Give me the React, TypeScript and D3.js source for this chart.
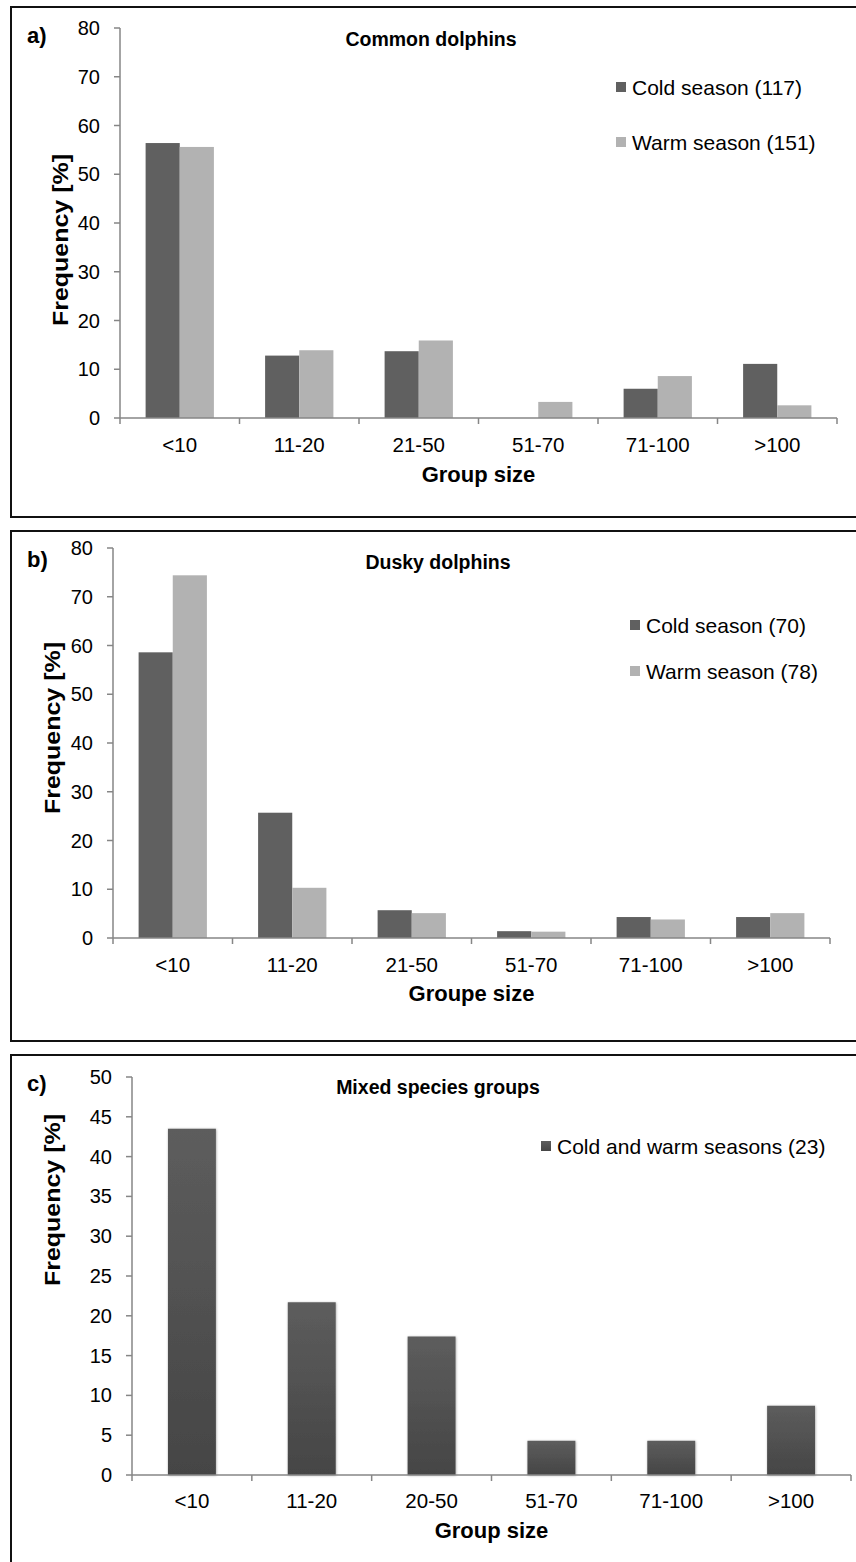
import React from "react";
import * as d3 from "d3";

const categoriesAB = ["<10", "11-20", "21-50", "51-70", "71-100", ">100"];
const categoriesC = ["<10", "11-20", "20-50", "51-70", "71-100", ">100"];

const commonCold = [56.4, 12.8, 13.7, 0, 6.0, 11.1];
const commonWarm = [55.6, 13.9, 15.9, 3.3, 8.6, 2.6];
const duskyCold = [58.6, 25.7, 5.7, 1.4, 4.3, 4.3];
const duskyWarm = [74.4, 10.3, 5.1, 1.3, 3.8, 5.1];
const mixedAll = [43.5, 21.7, 17.4, 4.3, 4.3, 8.7];

const ticksAB = [0, 10, 20, 30, 40, 50, 60, 70, 80];
const ticksC = [0, 5, 10, 15, 20, 25, 30, 35, 40, 45, 50];

const FONT = "'Liberation Sans', Arial, Helvetica, sans-serif";
const AXIS = "#868686";

type Series = { name: string; values: number[]; fill: string };

type PanelProps = {
  box: [number, number, number, number];
  tag: string;
  tagPos: [number, number];
  title: string;
  titlePos: [number, number];
  categories: string[];
  series: Series[];
  yTicks: number[];
  yMax: number;
  xRange: [number, number];
  yRange: [number, number];
  xLabelY: number;
  xTitle: string;
  xTitleY: number;
  yTitlePos: [number, number];
  legendX: number;
  legendY: number[];
};

function Panel(p: PanelProps) {
  const x = d3.scaleBand<string>().domain(p.categories).range(p.xRange).paddingInner(0).paddingOuter(0);
  const y = d3.scaleLinear().domain([0, p.yMax]).range(p.yRange);
  const W = x.bandwidth();
  const n = p.series.length;
  const bw = W / (n + 1.5);
  const gap = (W - bw * n) / 2;
  const [x0, x1] = p.xRange;
  const base = y(0);
  const boundaries = p.categories.map((c) => x(c) as number).concat([x1]);
  return (
    <g>
      <rect x={p.box[0]} y={p.box[1]} width={p.box[2]} height={p.box[3]} fill="white" stroke="#111" strokeWidth={2} />
      <text x={p.tagPos[0]} y={p.tagPos[1]} fontFamily={FONT} fontWeight="bold" fontSize={22}>{p.tag}</text>
      <text x={p.titlePos[0]} y={p.titlePos[1]} fontFamily={FONT} fontWeight="bold" fontSize={19.5} textAnchor="middle">{p.title}</text>
      {p.series.map((s, si) =>
        s.values.map((v, i) => {
          if (v <= 0) return null;
          const bx = (x(p.categories[i]) as number) + gap + si * bw;
          return (
            <rect key={s.name + i} x={bx} y={y(v)} width={bw} height={base - y(v)} fill={s.fill}
              filter={n === 1 ? "url(#shadow)" : undefined} />
          );
        })
      )}
      <line x1={x0} x2={x0} y1={y(p.yMax)} y2={base} stroke={AXIS} strokeWidth={1.5} />
      {p.yTicks.map((t) => (
        <g key={"yt" + t}>
          <line x1={x0 - 6} x2={x0} y1={y(t)} y2={y(t)} stroke={AXIS} strokeWidth={1.5} />
          <text x={x0 - 20} y={y(t) + 7} fontFamily={FONT} fontSize={20} textAnchor="end">{t}</text>
        </g>
      ))}
      <line x1={x0} x2={x1} y1={base} y2={base} stroke={AXIS} strokeWidth={1.5} />
      {boundaries.map((b, i) => (
        <line key={"xt" + i} x1={b} x2={b} y1={base} y2={base + 6} stroke={AXIS} strokeWidth={1.5} />
      ))}
      {p.categories.map((c) => (
        <text key={"xl" + c} x={(x(c) as number) + W / 2} y={p.xLabelY} fontFamily={FONT} fontSize={20.5} textAnchor="middle">{c}</text>
      ))}
      <text x={(x0 + x1) / 2} y={p.xTitleY} fontFamily={FONT} fontWeight="bold" fontSize={22} textAnchor="middle">{p.xTitle}</text>
      <text transform={`translate(${p.yTitlePos[0]},${p.yTitlePos[1]}) rotate(-90)`} fontFamily={FONT} fontWeight="bold"
        fontSize={22} textAnchor="middle" textLength={172} lengthAdjust="spacingAndGlyphs">Frequency [%]</text>
      {p.series.map((s, si) => (
        <g key={"lg" + si}>
          <rect x={p.legendX} y={p.legendY[si] - 5} width={10} height={10} fill={s.fill} />
          <text x={p.legendX + 16} y={p.legendY[si] + 7.5} fontFamily={FONT} fontSize={21}>{s.name}</text>
        </g>
      ))}
    </g>
  );
}

export default function App() {
  return (
    <svg width={856} height={1562} style={{ position: "absolute", left: 0, top: 0 }}>
      <defs>
        <linearGradient id="mixGrad" x1="0" y1="0" x2="0" y2="1">
          <stop offset="0%" stopColor="#5d5d5d" />
          <stop offset="100%" stopColor="#454545" />
        </linearGradient>
        <filter id="shadow" x="-10%" y="-10%" width="120%" height="120%">
          <feDropShadow dx="0.5" dy="0.5" stdDeviation="0.8" floodColor="#000" floodOpacity="0.35" />
        </filter>
      </defs>
      <rect x={0} y={0} width={856} height={1562} fill="white" />
      <Panel
        box={[11, 7, 860, 510]}
        tag="a)" tagPos={[27, 43]}
        title="Common dolphins" titlePos={[431, 46]}
        categories={categoriesAB}
        series={[
          { name: "Cold season (117)", values: commonCold, fill: "#606060" },
          { name: "Warm season (151)", values: commonWarm, fill: "#b2b2b2" },
        ]}
        yTicks={ticksAB} yMax={80}
        xRange={[120, 837]} yRange={[418, 28]}
        xLabelY={452} xTitle="Group size" xTitleY={482}
        yTitlePos={[68, 240]}
        legendX={616} legendY={[87, 142]}
      />
      <Panel
        box={[11, 531, 860, 510]}
        tag="b)" tagPos={[27, 567]}
        title="Dusky dolphins" titlePos={[438, 569]}
        categories={categoriesAB}
        series={[
          { name: "Cold season (70)", values: duskyCold, fill: "#606060" },
          { name: "Warm season (78)", values: duskyWarm, fill: "#b2b2b2" },
        ]}
        yTicks={ticksAB} yMax={80}
        xRange={[113, 830]} yRange={[938, 548]}
        xLabelY={972} xTitle="Groupe size" xTitleY={1001}
        yTitlePos={[60, 728]}
        legendX={630} legendY={[625, 671]}
      />
      <Panel
        box={[11, 1055, 860, 520]}
        tag="c)" tagPos={[27, 1091]}
        title="Mixed species groups" titlePos={[438, 1094]}
        categories={categoriesC}
        series={[{ name: "Cold and warm seasons (23)", values: mixedAll, fill: "url(#mixGrad)" }]}
        yTicks={ticksC} yMax={50}
        xRange={[132, 851]} yRange={[1475, 1077]}
        xLabelY={1508} xTitle="Group size" xTitleY={1538}
        yTitlePos={[60, 1200]}
        legendX={541} legendY={[1146]}
      />
    </svg>
  );
}
